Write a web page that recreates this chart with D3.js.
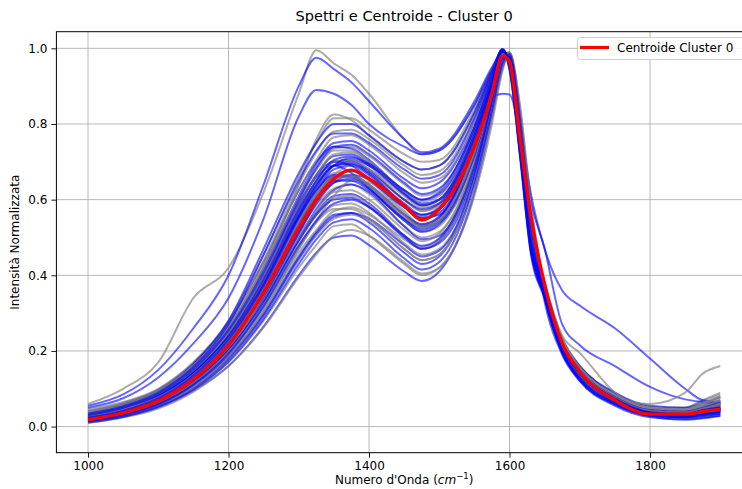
<!DOCTYPE html>
<html><head><meta charset="utf-8">
<script src="https://cdn.jsdelivr.net/npm/d3@7"></script>
<style>
body{margin:0;background:#fff}
svg{display:block}
text{font-family:"DejaVu Sans",sans-serif;fill:#000}
</style>
</head><body>
<svg id="c" width="742" height="489"></svg>
<script>
// ---------- DATA ----------
const wavenumbers = [1000,1050,1100,1150,1200,1250,1300, 1325,1350,1375,1400,1450,1475,1500, 1550,1575,1590,1600,1615,1630,1650, 1675,1700,1750,1800,1850,1875,1900];

const centroid = [.018,.036,.068,.125,.215,.355,.525, .600,.655,.678,.655,.585,.546,.575, .740,.880,.980,.965,.760,.560,.375, .220,.145,.070,.033,.033,.040,.046];

const graySpectra = [
 [.015,.030,.055,.100,.170,.280,.420, .480,.530,.535,.505,.430,.400,.420, .610,.800,.940,.990,.850,.600,.360, .200,.125,.060,.030,.025,.030,.035],
 [.020,.035,.062,.115,.195,.315,.470, .540,.585,.590,.565,.485,.455,.470, .660,.850,.970,.990,.810,.550,.350, .205,.130,.065,.035,.030,.038,.045],
 [.025,.042,.075,.130,.220,.350,.515, .585,.630,.640,.615,.530,.500,.515, .700,.870,.980,.985,.790,.530,.360, .215,.140,.068,.035,.030,.040,.050],
 [.034,.052,.084,.144,.240,.385,.565, .640,.690,.695,.670,.585,.555,.575, .755,.900,.990,.960,.755,.510,.375, .235,.160,.088,.052,.050,.068,.085],
 [.022,.040,.072,.130,.225,.365,.540, .620,.670,.675,.650,.565,.535,.555, .730,.885,.985,.970,.770,.520,.370, .225,.150,.075,.040,.035,.045,.055],
 [.030,.048,.080,.140,.235,.380,.560, .645,.700,.705,.680,.600,.570,.590, .760,.900,.990,.960,.750,.500,.360, .220,.145,.072,.038,.035,.048,.060],
 [.014,.028,.054,.102,.178,.292,.440, .505,.550,.560,.545,.470,.440,.455, .655,.845,.965,.988,.815,.560,.360, .205,.130,.062,.030,.020,.025,.030],
 [.060,.100,.170,.340,.420,.620,.880, .995,.960,.930,.880,.760,.720,.730, .850,.940,.985,.970,.790,.540,.380, .230,.155,.080,.045,.050,.070,.090],
 [.035,.055,.090,.155,.255,.410,.595, .680,.735,.740,.715,.640,.610,.625, .790,.920,.995,.955,.740,.500,.370, .230,.155,.080,.045,.040,.052,.065],
 [.026,.044,.077,.136,.230,.372,.548, .620,.660,.660,.630,.545,.515,.530, .715,.875,.982,.975,.780,.525,.365, .222,.148,.074,.040,.034,.046,.058],
 [.040,.060,.095,.165,.275,.440,.640, .725,.780,.785,.760,.690,.665,.675, .820,.935,.998,.950,.730,.480,.360, .225,.150,.078,.042,.040,.055,.070],
 [.045,.065,.100,.170,.280,.455,.660, .750,.815,.815,.785,.720,.700,.705, .840,.945,.990,.940,.720,.470,.355, .220,.150,.078,.045,.045,.060,.080],
 [.020,.038,.070,.128,.220,.360,.535, .610,.665,.690,.680,.610,.580,.590, .760,.905,.992,.962,.750,.500,.360, .220,.146,.074,.040,.036,.050,.064],
 [.015,.030,.058,.108,.190,.310,.470, .545,.610,.650,.645,.570,.530,.540, .700,.860,.975,.985,.800,.540,.370, .215,.135,.065,.032,.030,.040,.050],
 [.030,.050,.085,.150,.255,.420,.640, .760,.825,.810,.770,.700,.680,.690, .830,.940,.995,.950,.730,.480,.360, .225,.150,.078,.042,.040,.050,.060],
 [.012,.028,.055,.105,.185,.305,.460, .520,.570,.580,.560,.495,.470,.490, .690,.870,.980,.990,.820,.570,.380, .225,.145,.070,.038,.035,.048,.060],
 [.042,.062,.096,.162,.265,.420,.605, .680,.730,.730,.700,.615,.585,.600, .770,.910,.994,.958,.745,.500,.368, .232,.158,.084,.050,.046,.062,.080],
 [.018,.035,.066,.120,.210,.340,.505, .570,.620,.625,.600,.520,.490,.510, .695,.865,.975,.980,.790,.530,.350, .205,.132,.066,.034,.032,.044,.055],
 [.032,.050,.085,.148,.248,.398,.585, .665,.720,.725,.700,.625,.595,.610, .775,.915,.992,.958,.745,.500,.365, .228,.152,.078,.042,.038,.050,.062],
 [.035,.055,.088,.150,.245,.390,.570, .650,.700,.705,.680,.600,.570,.585, .760,.905,.990,.960,.750,.500,.360, .220,.150,.080,.060,.090,.140,.160],
 [.024,.040,.070,.125,.210,.335,.495, .560,.605,.610,.585,.505,.475,.495, .690,.870,.980,.982,.795,.535,.360, .215,.140,.072,.040,.038,.052,.065],
 [.010,.024,.048,.092,.160,.262,.395, .455,.505,.520,.505,.435,.405,.420, .620,.815,.950,.990,.840,.590,.370, .210,.130,.062,.030,.028,.036,.045],
 [.038,.058,.092,.160,.268,.430,.625, .705,.765,.770,.745,.670,.645,.655, .805,.930,.996,.952,.735,.490,.365, .230,.155,.082,.046,.044,.060,.075],
 [.028,.046,.078,.138,.232,.370,.545, .615,.660,.665,.640,.560,.530,.548, .730,.885,.985,.965,.765,.515,.370, .225,.150,.076,.042,.038,.048,.060],
 [.020,.036,.064,.116,.198,.320,.480, .540,.575,.575,.550,.470,.440,.455, .650,.840,.965,.988,.815,.560,.360, .210,.135,.066,.034,.032,.044,.055],
 [.026,.044,.076,.134,.226,.362,.535, .610,.655,.660,.635,.555,.525,.545, .725,.880,.982,.968,.775,.525,.380, .240,.195,.090,.050,.045,.055,.068]
];

const blueSpectra = [
 [.010,.025,.050,.095,.160,.265,.400, .460,.500,.505,.480,.410,.385,.410, .620,.820,.950,.985,.820,.560,.330, .190,.120,.055,.025,.020,.024,.030],
 [.030,.050,.082,.140,.240,.390,.575, .650,.700,.705,.690,.625,.600,.620, .790,.920,.995,.955,.735,.485,.350, .225,.160,.085,.050,.040,.055,.070],
 [.012,.028,.058,.110,.185,.300,.450, .515,.560,.565,.540,.460,.430,.450, .650,.840,.960,.980,.800,.540,.340, .195,.125,.060,.030,.025,.030,.035],
 [.018,.034,.065,.120,.205,.335,.495, .565,.610,.615,.590,.505,.470,.490, .680,.860,.975,.975,.770,.510,.340, .200,.130,.062,.032,.028,.034,.040],
 [.016,.030,.060,.112,.196,.325,.495, .575,.625,.640,.620,.530,.495,.505, .690,.865,.978,.985,.800,.545,.360, .215,.140,.070,.035,.022,.025,.030],
 [.015,.032,.062,.118,.210,.345,.515, .595,.645,.655,.630,.550,.520,.540, .720,.880,.985,.975,.760,.500,.345, .205,.135,.066,.034,.030,.038,.045],
 [.020,.038,.070,.128,.222,.360,.535, .620,.680,.690,.665,.580,.550,.565, .740,.890,.990,.965,.740,.480,.350, .210,.140,.068,.034,.028,.034,.040],
 [.055,.085,.150,.260,.400,.640,.900, .975,.945,.910,.860,.760,.725,.735, .860,.950,.990,.965,.800,.620,.470, .360,.320,.260,.180,.100,.070,.065],
 [.040,.062,.098,.168,.275,.435,.625, .700,.740,.735,.705,.620,.590,.600, .770,.905,.992,.962,.760,.510,.365, .230,.160,.090,.055,.050,.062,.078],
 [.025,.045,.080,.145,.245,.395,.580, .665,.715,.720,.695,.615,.585,.600, .770,.910,.995,.960,.730,.480,.345, .210,.140,.070,.035,.030,.040,.048],
 [.012,.027,.055,.104,.180,.295,.445, .510,.555,.565,.550,.480,.450,.465, .660,.850,.968,.988,.810,.550,.350, .200,.128,.060,.028,.018,.022,.028],
 [.030,.052,.088,.155,.260,.420,.610, .695,.750,.755,.730,.655,.630,.645, .800,.930,.998,.950,.720,.470,.345, .215,.145,.075,.040,.035,.045,.055],
 [.050,.075,.130,.220,.340,.550,.820, .890,.880,.850,.800,.740,.720,.730, .850,.945,.988,.965,.780,.600,.470, .270,.215,.160,.105,.072,.065,.060],
 [.022,.040,.073,.132,.228,.372,.555, .635,.690,.695,.670,.585,.552,.560, .735,.895,.990,.968,.755,.505,.360, .215,.142,.072,.040,.036,.048,.062],
 [.035,.058,.095,.165,.280,.470,.670, .750,.800,.800,.770,.700,.680,.690, .830,.940,.995,.945,.710,.460,.340, .210,.140,.070,.038,.032,.042,.050],
 [.022,.042,.078,.142,.245,.400,.590, .660,.690,.670,.630,.550,.525,.545, .735,.895,.990,.960,.740,.490,.355, .215,.140,.070,.036,.030,.038,.044],
 [.028,.048,.084,.146,.248,.400,.585, .665,.700,.690,.655,.580,.560,.580, .765,.910,.994,.962,.745,.490,.350, .210,.138,.066,.030,.026,.034,.040],
 [.028,.046,.082,.140,.235,.375,.555, .625,.665,.660,.635,.560,.535,.555, .745,.900,.985,.965,.760,.510,.365, .220,.145,.072,.036,.032,.042,.050],
 [.020,.036,.066,.122,.215,.355,.530, .605,.650,.650,.625,.545,.515,.535, .715,.875,.980,.975,.780,.520,.355, .210,.135,.066,.033,.028,.036,.042],
 [.018,.034,.064,.118,.204,.338,.510, .590,.645,.665,.655,.590,.560,.575, .745,.893,.988,.972,.770,.515,.360, .212,.136,.066,.032,.030,.045,.058],
 [.022,.040,.072,.130,.222,.360,.535, .610,.660,.665,.640,.560,.530,.550, .730,.870,.880,.878,.760,.520,.360, .215,.140,.068,.034,.030,.038,.045],
 [.026,.044,.078,.138,.232,.378,.560, .640,.690,.700,.675,.600,.575,.590, .760,.905,.990,.960,.745,.495,.355, .215,.140,.070,.035,.030,.038,.046],
 [.026,.045,.080,.142,.240,.388,.570, .650,.705,.715,.690,.615,.585,.600, .770,.908,.993,.960,.750,.500,.362, .222,.150,.078,.044,.040,.050,.066],
 [.016,.032,.062,.115,.200,.330,.490, .560,.600,.605,.580,.500,.470,.485, .670,.855,.970,.980,.790,.520,.345, .200,.128,.062,.030,.026,.032,.038],
 [.012,.026,.052,.098,.172,.285,.430, .495,.540,.548,.525,.445,.415,.435, .640,.835,.960,.985,.815,.555,.345, .195,.122,.058,.028,.024,.028,.034],
 [.030,.050,.085,.150,.255,.410,.600, .685,.740,.745,.720,.645,.615,.630, .790,.925,.996,.955,.730,.480,.350, .215,.145,.074,.038,.034,.044,.052],
 [.024,.042,.075,.135,.230,.372,.550, .630,.690,.710,.695,.625,.600,.615, .780,.915,.994,.958,.738,.488,.352, .212,.140,.070,.036,.031,.040,.047],
 [.014,.030,.058,.110,.192,.318,.478, .545,.590,.600,.580,.505,.478,.498, .688,.862,.975,.978,.785,.525,.350, .205,.130,.064,.032,.027,.034,.040],
 [.034,.054,.090,.158,.270,.455,.650, .730,.775,.775,.750,.680,.655,.665, .815,.935,.997,.950,.720,.468,.342, .210,.142,.072,.038,.033,.042,.050]
];

const xTicks = [1000,1200,1400,1600,1800];
const yTicks = [0.0,0.2,0.4,0.6,0.8,1.0];
const titleText = "Spettri e Centroide - Cluster 0";
const yLabelText = "Intensità Normalizzata";
const legendLabel = "Centroide Cluster 0";

// ---------- LAYOUT ----------
const svg = d3.select("#c");
const L = 56.4, R = 751.9, T = 31.7, B = 452.7;
const x = d3.scaleLinear().domain([955, 1945]).range([L, R]);
const y = d3.scaleLinear().domain([-0.069, 1.044]).range([B, T]);

svg.append("defs").append("clipPath").attr("id","clip")
  .append("rect").attr("x",L).attr("y",T).attr("width",R-L).attr("height",B-T);

// grid
const grid = svg.append("g");
grid.selectAll("line.vx").data(xTicks).join("line")
  .attr("x1",d=>x(d)).attr("x2",d=>x(d)).attr("y1",T).attr("y2",B)
  .attr("stroke","#b0b0b0").attr("stroke-width",0.9);
grid.selectAll("line.hy").data(yTicks).join("line")
  .attr("class","hy")
  .attr("x1",L).attr("x2",R).attr("y1",d=>y(d)).attr("y2",d=>y(d))
  .attr("stroke","#b0b0b0").attr("stroke-width",0.9);

// lines
const line = d3.line()
  .x((d,i)=>x(wavenumbers[i]))
  .y(d=>y(d))
  .curve(d3.curveMonotoneX);

const plot = svg.append("g").attr("clip-path","url(#clip)");
const n = Math.max(graySpectra.length, blueSpectra.length);
for (let i = 0; i < n; i++) {
  if (graySpectra[i]) plot.append("path").datum(graySpectra[i]).attr("d",line)
    .attr("fill","none").attr("stroke","#808080").attr("stroke-opacity",0.65).attr("stroke-width",2);
  if (blueSpectra[i]) plot.append("path").datum(blueSpectra[i]).attr("d",line)
    .attr("fill","none").attr("stroke","#0000ff").attr("stroke-opacity",0.6).attr("stroke-width",2);
}
plot.append("path").datum(centroid).attr("d",line)
  .attr("fill","none").attr("stroke","#ff0000").attr("stroke-width",3.4);

// axes
const xAxis = svg.append("g").attr("transform",`translate(0,${B})`)
  .call(d3.axisBottom(x).tickValues(xTicks).tickSize(5).tickPadding(4).tickFormat(d3.format("d")));
const yAxis = svg.append("g").attr("transform",`translate(${L},0)`)
  .call(d3.axisLeft(y).tickValues(yTicks).tickSize(5).tickPadding(4).tickFormat(d3.format(".1f")));
[xAxis,yAxis].forEach(a=>{
  a.select(".domain").remove();
  a.selectAll("text").attr("font-size",12).attr("font-family","DejaVu Sans").attr("fill","#000");
  a.selectAll("line").attr("stroke","#000").attr("stroke-width",0.9);
});

// spines
svg.append("rect").attr("x",L).attr("y",T).attr("width",R-L).attr("height",B-T)
  .attr("fill","none").attr("stroke","#000").attr("stroke-width",1);

// title & labels
svg.append("text").attr("x",(L+R)/2).attr("y",21).attr("text-anchor","middle")
  .attr("font-size",14.5).text(titleText);

const xl = svg.append("text").attr("x",(L+R)/2).attr("y",484).attr("text-anchor","middle").attr("font-size",12);
xl.append("tspan").text("Numero d'Onda (");
xl.append("tspan").attr("font-style","italic").text("cm");
xl.append("tspan").attr("dy",-5).attr("font-size",8.5).text("\u22121");
xl.append("tspan").attr("dy",5).text(")");

svg.append("text").attr("transform",`translate(19,${(T+B)/2}) rotate(-90)`)
  .attr("text-anchor","middle").attr("font-size",12).text(yLabelText);

// legend
const lg = svg.append("g");
lg.append("rect").attr("x",577.5).attr("y",37.5).attr("width",172).attr("height",22)
  .attr("rx",3).attr("fill","#fff").attr("fill-opacity",0.85).attr("stroke","#d0d0d0").attr("stroke-width",1);
lg.append("line").attr("x1",580).attr("x2",609).attr("y1",47.5).attr("y2",47.5)
  .attr("stroke","#ff0000").attr("stroke-width",3.2);
lg.append("text").attr("x",617).attr("y",52).attr("font-size",12).text(legendLabel);
</script>
</body></html>
